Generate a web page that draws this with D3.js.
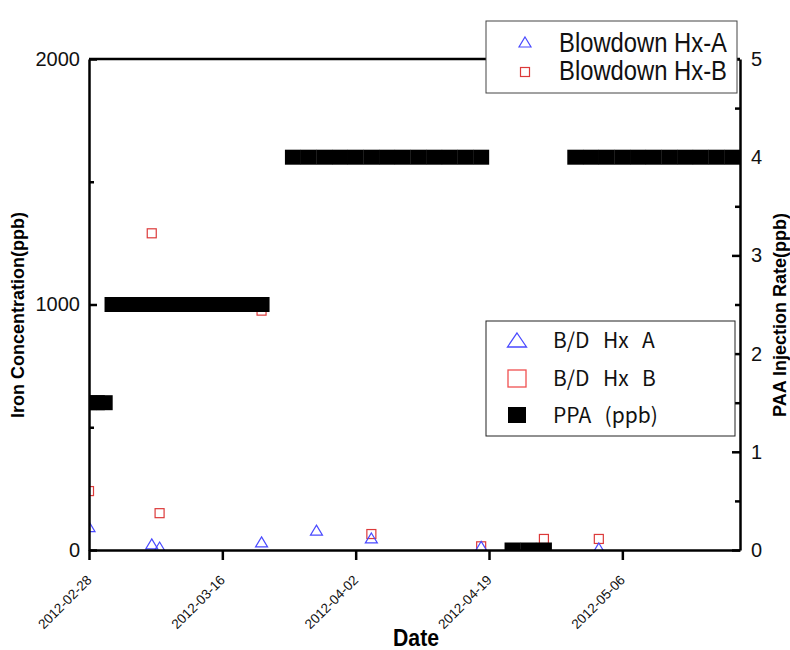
<!DOCTYPE html>
<html>
<head>
<meta charset="utf-8">
<script src="https://cdn.jsdelivr.net/npm/d3@7"></script>
<style>
  body { margin: 0; background: #fff; }
  svg { display: block; }
</style>
</head>
<body>
<div id="chart"></div>
<script>
// Blowdown Hx-A (blue triangles), iron concentration in ppb
const hxADates  = ['2012-02-28', '2012-03-07', '2012-03-08', '2012-03-21', '2012-03-28', '2012-04-04', '2012-04-18', '2012-05-03'];
const hxAValues = [95, 25, 12, 33, 81, 49, 15, 8];

// Blowdown Hx-B (red squares), iron concentration in ppb
const hxBDates  = ['2012-02-28', '2012-03-07', '2012-03-08', '2012-03-21', '2012-04-04', '2012-04-18', '2012-04-26', '2012-05-03'];
const hxBValues = [240, 1290, 150, 975, 65, 15, 45, 45];

// PPA injection rate (right axis)
const ppaDates = [
  '2012-02-28', '2012-02-29', '2012-03-01',
  '2012-03-02', '2012-03-03', '2012-03-04', '2012-03-05', '2012-03-06', '2012-03-07', '2012-03-08',
  '2012-03-09', '2012-03-10', '2012-03-11', '2012-03-12', '2012-03-13', '2012-03-14', '2012-03-15',
  '2012-03-16', '2012-03-17', '2012-03-18', '2012-03-19', '2012-03-20', '2012-03-21',
  '2012-03-25', '2012-03-27', '2012-03-29', '2012-03-31', '2012-04-02', '2012-04-04', '2012-04-06',
  '2012-04-08', '2012-04-10', '2012-04-12', '2012-04-14', '2012-04-16', '2012-04-18',
  '2012-04-22', '2012-04-24', '2012-04-26',
  '2012-04-30', '2012-05-02', '2012-05-04', '2012-05-06', '2012-05-08', '2012-05-10', '2012-05-12',
  '2012-05-14', '2012-05-16', '2012-05-18', '2012-05-20'
];
const ppaValues = [
  1.5, 1.5, 1.5,
  2.5, 2.5, 2.5, 2.5, 2.5, 2.5, 2.5,
  2.5, 2.5, 2.5, 2.5, 2.5, 2.5, 2.5,
  2.5, 2.5, 2.5, 2.5, 2.5, 2.5,
  4, 4, 4, 4, 4, 4, 4,
  4, 4, 4, 4, 4, 4,
  0, 0, 0,
  4, 4, 4, 4, 4, 4, 4,
  4, 4, 4, 4
];

const xTickLabels = ['2012-02-28', '2012-03-16', '2012-04-02', '2012-04-19', '2012-05-06'];
const leftTicks = [0, 1000, 2000];
const leftMinorTicks = [500, 1500];
const rightTicks = [0, 1, 2, 3, 4, 5];
const rightMinorTicks = [0.5, 1.5, 2.5, 3.5, 4.5];

const legendTopNames = ['Blowdown Hx-A', 'Blowdown Hx-B'];
const legendMidNames = ['B/D  Hx  A', 'B/D  Hx  B', 'PPA  (ppb)'];

const width = 790, height = 650;
const plotLeft = 89, plotRight = 740, plotTop = 59, plotBottom = 550;

const blue = '#4a4aff';
const red = '#dc3a3a';
const font = "'Liberation Sans', Arial, sans-serif";

const parse = d3.timeParse('%Y-%m-%d');

const svg = d3.select('#chart').append('svg')
    .attr('width', width)
    .attr('height', height);

const x = d3.scaleTime()
    .domain([parse('2012-02-28'), parse('2012-05-21')])
    .range([plotLeft, plotRight]);

const yLeft = d3.scaleLinear().domain([0, 2000]).range([plotBottom, plotTop]);
const yRight = d3.scaleLinear().domain([0, 5]).range([plotBottom, plotTop]);

// triangle centred on its bounding box
function tri(w, h) {
    return `M0,${-h / 2}L${w / 2},${h / 2}L${-w / 2},${h / 2}Z`;
}

svg.append('clipPath').attr('id', 'plot-clip')
  .append('rect')
    .attr('x', plotLeft).attr('y', plotTop)
    .attr('width', plotRight - plotLeft).attr('height', plotBottom - plotTop);

const plot = svg.append('g').attr('clip-path', 'url(#plot-clip)');

// Hx-B squares
plot.selectAll('.hxb')
    .data(hxBDates.map((d, i) => ({ date: parse(d), v: hxBValues[i] })))
    .enter().append('rect')
        .attr('class', 'hxb')
        .attr('x', d => x(d.date) - 4.5)
        .attr('y', d => yLeft(d.v) - 4.5)
        .attr('width', 9)
        .attr('height', 9)
        .attr('fill', 'none')
        .attr('stroke', red)
        .attr('stroke-width', 1.2);

// Hx-A triangles
plot.selectAll('.hxa')
    .data(hxADates.map((d, i) => ({ date: parse(d), v: hxAValues[i] })))
    .enter().append('path')
        .attr('class', 'hxa')
        .attr('d', tri(12, 10))
        .attr('transform', d => `translate(${x(d.date)},${yLeft(d.v)})`)
        .attr('fill', 'none')
        .attr('stroke', blue)
        .attr('stroke-width', 1.2);

// PPA big black squares
plot.selectAll('.ppa')
    .data(ppaDates.map((d, i) => ({ date: parse(d), v: ppaValues[i] })))
    .enter().append('rect')
        .attr('class', 'ppa')
        .attr('x', d => x(d.date) - 8)
        .attr('y', d => yRight(d.v) - 7.5)
        .attr('width', 16)
        .attr('height', 15)
        .attr('fill', '#000');

// top frame line
svg.append('line')
    .attr('x1', plotLeft).attr('x2', plotRight)
    .attr('y1', plotTop).attr('y2', plotTop)
    .attr('stroke', '#000').attr('stroke-width', 2.5);

// left axis
const leftAxis = svg.append('g')
    .attr('transform', `translate(${plotLeft},0)`)
    .call(d3.axisLeft(yLeft).tickValues(leftTicks).tickSize(-8).tickSizeOuter(0).tickPadding(9).tickFormat(d3.format('d')));
svg.append('g')
    .attr('transform', `translate(${plotLeft},0)`)
    .call(d3.axisLeft(yLeft).tickValues(leftMinorTicks).tickSize(-5).tickFormat(''))
    .call(g => g.select('.domain').remove());

// right axis
const rightAxis = svg.append('g')
    .attr('transform', `translate(${plotRight},0)`)
    .call(d3.axisRight(yRight).tickValues(rightTicks).tickSize(-8).tickSizeOuter(0).tickPadding(11).tickFormat(d3.format('d')));
svg.append('g')
    .attr('transform', `translate(${plotRight},0)`)
    .call(d3.axisRight(yRight).tickValues(rightMinorTicks).tickSize(-5).tickFormat(''))
    .call(g => g.select('.domain').remove());

// bottom axis
const bottomAxis = svg.append('g')
    .attr('transform', `translate(0,${plotBottom})`)
    .call(d3.axisBottom(x).tickValues(xTickLabels.map(parse)).tickSize(10).tickSizeOuter(0).tickFormat(d3.timeFormat('%Y-%m-%d')));

bottomAxis.selectAll('text')
    .attr('y', 0)
    .attr('dy', 0)
    .attr('text-anchor', 'end')
    .attr('transform', 'translate(3,31) rotate(-45)')
    .attr('font-size', 13.5);

[leftAxis, rightAxis].forEach(a => a.selectAll('text').attr('font-size', 20));

svg.selectAll('.domain, .tick line')
    .attr('stroke', '#000')
    .attr('stroke-width', 2.5);
svg.selectAll('.tick text')
    .attr('font-family', font)
    .attr('fill', '#111');

// axis titles
svg.append('text')
    .attr('transform', 'translate(24,315) rotate(-90)')
    .attr('text-anchor', 'middle')
    .attr('font-family', font)
    .attr('font-weight', 'bold')
    .attr('font-size', 18)
    .text('Iron Concentration(ppb)');

svg.append('text')
    .attr('transform', 'translate(786,315) rotate(-90)')
    .attr('text-anchor', 'middle')
    .attr('font-family', font)
    .attr('font-weight', 'bold')
    .attr('font-size', 18)
    .text('PAA Injection Rate(ppb)');

svg.append('text')
    .attr('x', 393).attr('y', 646)
    .attr('font-family', font)
    .attr('font-weight', 'bold')
    .attr('font-size', 23)
    .attr('textLength', 46)
    .attr('lengthAdjust', 'spacingAndGlyphs')
    .text('Date');

// top legend
const legTop = svg.append('g');
legTop.append('rect')
    .attr('x', 486).attr('y', 21).attr('width', 251).attr('height', 72)
    .attr('fill', '#fff').attr('stroke', '#444').attr('stroke-width', 1);
legTop.append('path')
    .attr('d', tri(12, 10))
    .attr('transform', 'translate(525,42)')
    .attr('fill', 'none').attr('stroke', blue).attr('stroke-width', 1.2);
legTop.append('rect')
    .attr('x', 520.5).attr('y', 67.5).attr('width', 9).attr('height', 9)
    .attr('fill', 'none').attr('stroke', red).attr('stroke-width', 1.2);
legTop.selectAll('text')
    .data(legendTopNames)
    .enter().append('text')
        .attr('x', 559)
        .attr('y', (d, i) => 52 + i * 28)
        .attr('font-family', font)
        .attr('font-size', 27)
        .attr('textLength', 168)
        .attr('lengthAdjust', 'spacingAndGlyphs')
        .attr('fill', '#111')
        .text(d => d);

// middle legend
const legMid = svg.append('g');
legMid.append('rect')
    .attr('x', 486).attr('y', 321).attr('width', 249).attr('height', 115)
    .attr('fill', '#fff').attr('stroke', '#222').attr('stroke-width', 1);
legMid.append('path')
    .attr('d', tri(19, 14))
    .attr('transform', 'translate(517,340)')
    .attr('fill', 'none').attr('stroke', blue).attr('stroke-width', 1.3);
legMid.append('rect')
    .attr('x', 508).attr('y', 370).attr('width', 18).attr('height', 17)
    .attr('fill', 'none').attr('stroke', '#f05050').attr('stroke-width', 1.3);
legMid.append('rect')
    .attr('x', 508).attr('y', 407).attr('width', 18).attr('height', 16)
    .attr('fill', '#000');
legMid.selectAll('text')
    .data(legendMidNames)
    .enter().append('text')
        .attr('x', 553)
        .attr('y', (d, i) => 348 + i * 37.5)
        .attr('font-family', "'Noto Sans CJK KR', 'Noto Sans', sans-serif")
        .attr('font-size', 21)
        .attr('fill', '#111')
        .attr('word-spacing', 2)
        .style('white-space', 'pre')
        .text(d => d);
</script>
</body>
</html>
